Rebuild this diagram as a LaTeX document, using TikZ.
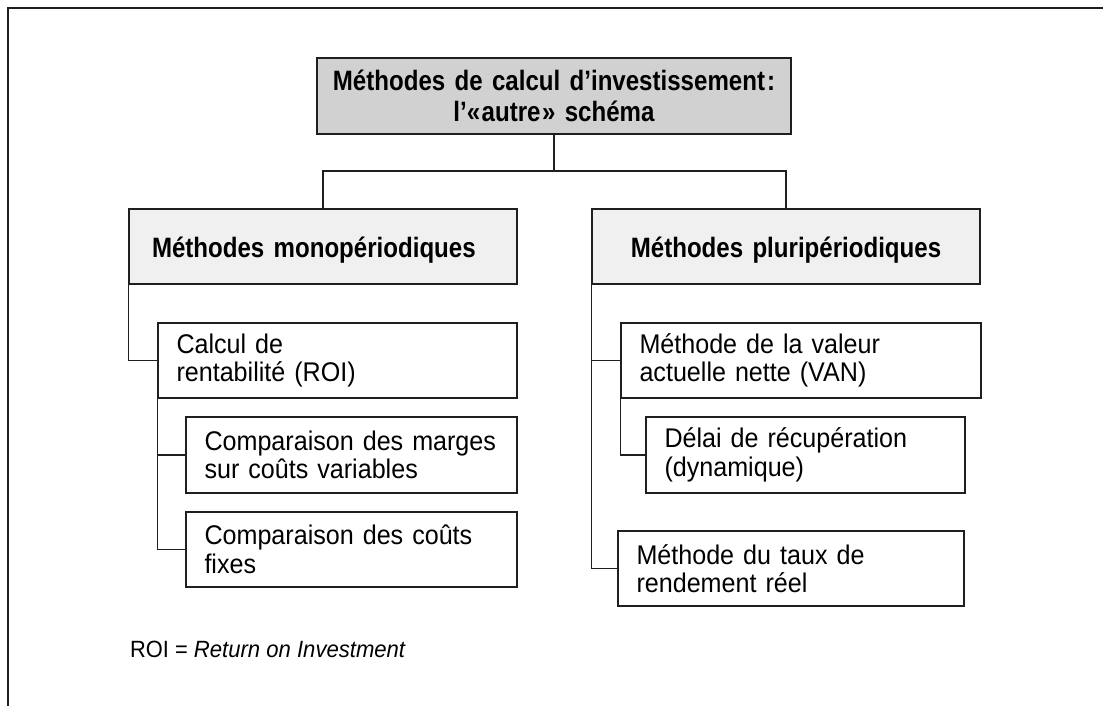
\documentclass[tikz,border=0pt]{standalone}
\usepackage{fontspec}
\setmainfont{Liberation Sans}[UprightFeatures={FakeStretch=0.93}, ItalicFeatures={FakeStretch=0.94}, BoldFeatures={FakeStretch=0.86}]
\begin{document}
\begin{tikzpicture}[x=1pt,y=-1pt,
  conn/.style={line width=1.3pt, draw=black!88},
  box/.style={draw=black!88, line width=1.5pt, rectangle, inner ysep=0pt, inner xsep=18.5pt,
    align=left, font=\fontsize{27}{28.5}\selectfont, minimum height=75pt},
  head/.style={draw=black!88, line width=1.5pt, fill=gray!12, rectangle,
    font=\bfseries\fontsize{28}{30.5}\selectfont, minimum width=388pt, minimum height=75pt,
    inner xsep=23pt, text width=342pt, text height=21pt, text depth=0pt},
  titlebox/.style={draw=black!88, line width=1.5pt, fill=gray!36, rectangle, align=center,
    font=\bfseries\fontsize{28}{30.5}\selectfont, minimum width=474pt, minimum height=76pt,
    inner xsep=12pt, text width=450pt}]
\useasboundingbox (0,0) rectangle (1103,706);
\draw[line width=2pt, draw=black!88] (8,706) -- (8,8) -- (1103,8);

\node[titlebox] (t) at (554,96) {Méthodes de calcul d’investissement\kern2pt:\\l’«\kern1.5pt autre\kern1.5pt» schéma};
\node[head, align=left] (lm) at (323,246.5) {Méthodes monopériodiques};
\node[head, align=center] (rm) at (786,246.5) {Méthodes pluripériodiques};

\node[box, text width=322pt] (roi) at (337.5,360.5) {\mbox{Calcul de}\\\mbox{rentabilité (ROI)}};
\node[box, text width=294pt, minimum height=76pt] (cm) at (351.5,455) {\mbox{Comparaison des marges}\\\mbox{sur coûts variables}};
\node[box, text width=294pt] (cf) at (351.5,549.5) {\mbox{Comparaison des coûts}\\\mbox{fixes}};
\node[box, text width=323pt] (van) at (801,360.5) {\mbox{Méthode de la valeur}\\\mbox{actuelle nette (VAN)}};
\node[box, text width=282pt, minimum height=76pt] (del) at (805.5,455) {\mbox{Délai de récupération}\\\mbox{(dynamique)}};
\node[box, text width=309pt] (tx) at (791,568.5) {\mbox{Méthode du taux de}\\\mbox{rendement réel}};

\node[anchor=base west, inner sep=0pt, font=\fontsize{23.5}{27}\selectfont] (note) at (130,657) {ROI = \textit{Return on Investment}};

\coordinate (bar) at (554,171);
\draw[conn] (t.south) -- (bar);
\draw[conn] (lm.north) |- (bar) -| (rm.north);
\draw[conn] (lm.south west) |- (roi.west);
\draw[conn] (roi.south west) |- (cm.west);
\draw[conn] (roi.south west) |- (cf.west);
\draw[conn] (rm.south west) |- (van.west);
\draw[conn] (rm.south west) |- (tx.west);
\draw[conn] (van.south west) |- (del.west);
\end{tikzpicture}
\end{document}
